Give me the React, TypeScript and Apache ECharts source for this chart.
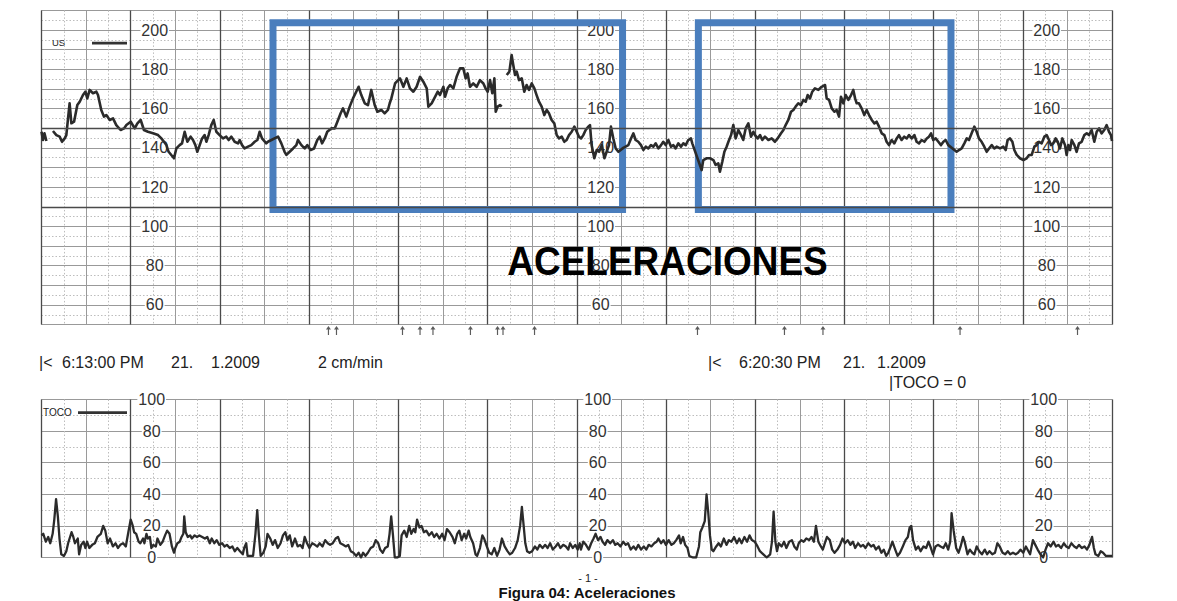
import React, { useEffect, useRef } from "react";
import * as echarts from "echarts";

// ---------- DATA ----------
// Fetal heart rate trace (US): [seconds from 6:13:00 PM, bpm]; null = signal gap
const fhrTrace: (number | null)[][] = [
  [0,148.2],[1,144.0],[2,147.4],[3.3,143.5],[5.5,null],
  [7.7,148.6],[10,146.5],[12.2,145.7],[13.8,143.1],[15.6,144.8],[16.7,146.5],[18.9,162.7],[20.1,152.5],[21.9,153.3],[24.1,161.8],[25.7,163.5],[27.9,166.9],[29.5,168.6],[30.8,165.2],[32.4,169.5],[34.6,167.8],[36.9,168.6],[38.0,166.9],[40.2,159.3],[42.0,155.9],[43.6,156.7],[45.9,154.2],[48.1,155.0],[50.3,151.6],[53.2,149.1],[55.5,149.9],[57.1,151.6],[60.0,153.3],[62.7,149.9],[64.5,152.5],[66.7,154.2],[68.9,149.1],[71.6,148.2],[75.0,147.4],[78.4,146.5],[80.6,144.8],[82.4,143.1],[84.0,141.4],[85.5,138.0],[89.1,134.7],[90.7,139.7],[92.9,141.4],[94.5,142.3],[96.3,148.2],[98.1,143.1],[100.3,145.7],[101.9,144.0],[103.5,141.4],[104.8,138.0],[106.4,141.4],[108.0,144.8],[109.7,146.5],[110.9,143.1],[112.4,146.5],[114.2,151.6],[115.8,154.2],[117.6,148.2],[119.8,146.5],[122.1,144.8],[124.3,145.7],[125.9,144.0],[127.7,145.7],[129.9,143.1],[132.2,142.3],[133.3,144.0],[134.9,141.4],[136.6,139.7],[138.9,140.6],[141.1,141.4],[143.4,143.1],[145.2,144.0],[146.7,148.2],[148.3,144.8],[151.2,142.3],[152.3,143.1],[154.6,144.0],[159.1,145.7],[161.3,142.3],[163.5,138.0],[164.7,136.4],[166.9,138.0],[169.2,139.7],[171.4,141.4],[172.5,144.0],[174.8,141.4],[177.0,139.7],[178.8,141.4],[181.0,138.9],[183.3,139.7],[185.5,144.0],[187.1,145.7],[188.7,142.3],[190.5,144.8],[192.2,148.2],[194.9,149.9],[197.2,149.9],[199.0,153.3],[201.2,157.6],[202.8,160.1],[205.0,155.9],[207.3,161.0],[209.5,165.2],[213.3,171.1],[215.1,166.9],[217.4,162.7],[219.6,161.8],[221.8,169.5],[224.1,161.8],[225.9,158.4],[228.6,159.3],[230.8,157.6],[233.0,159.3],[234.2,162.7],[235.3,165.2],
  [237.8,172.8],[238.9,173.7],[241.1,175.4],[243.4,171.1],[245.6,175.4],[247.8,170.3],[250.1,168.6],[252.3,171.1],[254.6,176.2],[256.8,173.7],[259.1,170.3],[260.2,161.0],[262.4,162.7],[264.7,166.0],[266.5,168.6],[268.0,166.9],[270.3,171.1],[271.4,166.0],[273.2,170.3],[274.8,172.0],[277.0,170.3],[279.2,176.2],[281.5,180.5],[283.7,180.5],[285.3,175.4],[286.6,177.9],[288.2,171.1],[290.4,172.8],[292.7,171.1],[294.9,174.5],[297.2,172.8],[298.7,170.3],[300.1,168.6],[301.7,174.5],[303.2,167.8],[304.6,175.4],[305.5,158.4],[306.8,161.0],[308.4,161.8],[309.5,161.0],[311,null],
  [312.9,177.1],[314.7,178.8],[316.2,187.3],[317.3,182.2],[318.5,177.1],[319.6,178.8],[321.2,174.5],[323.0,175.4],[324.7,168.6],[326.3,172.0],[327.9,169.5],[329.7,172.8],[331.5,170.3],[333.0,166.9],[334.6,163.5],[336.4,161.0],[338.2,156.7],[339.8,159.3],[341.3,157.6],[343.1,154.2],[344.9,152.5],[346.5,146.5],[348.1,144.8],[349.9,145.7],[351.6,143.1],[353.2,144.0],[354.8,146.5],[356.6,148.2],[358.4,150.8],[360.0,148.2],[361.5,145.7],[362.9,144.8],[364.4,146.5],[366.0,149.1],[367.8,150.8],[368.9,151.6],[370.0,141.4],[371.8,134.7],[373.4,138.9],[375.0,138.0],[376.8,141.4],[378.6,134.7],[380.1,138.0],[381.7,141.4],[383.0,150.8],[384.6,144.8],[386.2,139.7],[388.0,138.0],[391.3,140.0],[394.7,141.4],[396.5,144.8],[398.1,147.4],[399.6,144.0],[401.4,143.1],[403.2,141.4],[404.8,138.9],[406.4,140.6],[408.1,139.7],[409.9,141.4],[411.5,140.6],[413.1,142.3],[414.9,139.7],[416.7,141.4],[418.2,143.1],[419.8,141.4],[421.6,144.0],[423.4,140.6],[425.0,141.4],[426.5,139.7],[428.3,142.3],[430.1,140.6],[431.7,142.3],[433.3,141.4],[435.0,144.0],[436.8,144.8],[437.7,142.3],
  [444.0,128.7],[445.1,133.8],[447.4,134.7],[449.6,134.7],[451.9,133.8],[453.4,131.3],[455.2,132.1],[456.3,127.9],[457.9,133.0],[459.3,138.0],[460.8,140.6],[462.0,143.1],[463.8,146.5],[465.3,151.6],[466.9,144.8],[468.7,149.1],[470.5,146.5],[472.0,144.0],[473.6,149.9],[475.4,152.5],[477.2,145.7],[478.8,148.2],
  [479.9,146.5],[481.7,144.8],[483.3,146.5],[484.8,144.0],[486.6,145.7],[488.9,144.0],[491.1,144.8],[493.3,143.1],[495.1,144.8],[497.4,147.4],[499.0,149.1],[500.5,151.6],[502.3,154.2],[504.1,158.4],[505.7,159.3],[507.2,161.0],[509.0,162.7],[510.8,161.8],[512.4,164.4],[514.0,163.5],[515.3,166.9],[516.9,165.2],[518.4,168.6],[520.2,170.3],[522.5,169.5],[524.7,171.1],[527.0,172.0],[528.1,165.2],[529.7,164.4],[531.5,160.1],[533.3,158.4],[534.8,159.3],[536.4,155.9],[537.7,166.0],[539.3,162.7],[540.9,166.9],[542.7,164.4],[544.5,166.9],[546.0,169.5],[547.2,165.2],[548.3,162.7],[549.8,162.7],[551.6,160.1],[553.4,156.7],[555.0,159.3],[556.6,156.7],[558.4,154.2],[560.2,152.5],[561.7,153.3],[563.3,150.8],[565.1,147.4],[566.9,146.5],[568.4,143.1],[570.0,141.4],[571.8,144.0],[573.6,142.3],[575.2,144.8],[576.7,146.5],[578.5,144.0],[580.3,145.7],[581.9,144.8],[583.5,146.5],[585.3,144.8],[587.1,146.5],[588.6,143.1],[590.2,142.3],[592.0,144.0],[593.8,143.1],[595.4,144.8],[596.9,145.7],[598.3,147.4],[599.8,144.0],[601.4,144.8],[603.2,143.1],[605.0,141.4],[606.6,143.1],[608.1,144.0],[609.9,141.4],[615.5,138.0],[617.1,138.9],[618.9,139.7],[620.7,142.3],[622.3,144.8],[623.8,144.0],[625.6,147.4],[627.4,150.8],[629.0,148.2],[630.5,144.8],[632.3,143.1],[634.1,140.6],[635.7,138.0],[637.3,139.7],[639.1,141.4],[640.9,139.7],[642.4,140.6],[644.7,139.7],[646.9,140.6],[648.5,138.9],[649.8,144.0],[651.4,144.8],[653.0,143.1],[654.3,138.9],[655.9,136.4],[658.1,134.7],[660.4,133.8],[662.6,134.7],[664.2,136.4],[666.0,136.4],[667.8,140.6],[669.3,141.4],[670.9,143.1],[672.7,142.3],[674.5,145.7],[676.1,146.5],[677.6,144.0],[679.0,141.4],[680.5,142.3],[682.1,144.8],[683.5,143.1],[685.0,139.7],[686.6,144.8],[688.4,141.4],[689.5,136.4],[690.6,141.4],[691.8,138.9],[692.9,144.0],[694.7,141.4],[696.2,138.0],[697.8,142.3],[699.6,143.1],[701.4,146.5],[703.0,147.4],[704.5,146.5],[706.3,149.1],[708.1,143.1],[709.7,148.2],[711.3,149.9],[713.0,147.4],[714.8,149.1],[716.4,151.6],[718.0,148.2],[719.3,146.5],[720,143.5]
];

// Uterine activity trace (TOCO): [seconds, units]
const tocoTrace: number[][] = [
  [0,14],[1.2,15],[2.9,10],[4.5,13],[5.9,9],[7.5,15],[8.6,24],[9.8,37],[11,26],[12.1,12],[13.3,2],[15.1,1],[16.7,4],[17.9,9],[20.2,16],[21.4,13],[22.5,9],[24.4,12],[25.3,2],[26.7,8],[28.3,10],[29.5,6],[30.6,10],[32.2,6],[34.1,8],[35.9,9],[37.6,13],[39.9,15],[41.5,20],[42.9,17],[44.5,9],[46.1,12],[48,7],[49.8,9],[51.4,6],[53,8],[54.9,9],[56.7,7],[58.4,16],[60,24],[61.4,20],[62.3,16],[63.7,15],[65.3,10],[66.5,9],[68.3,12],[69.2,9],[70.6,15],[71.5,12],[72.9,13],[73.9,6],[75.2,8],[76.9,7],[78,12],[79.9,8],[81.5,10],[83.1,14],[84.5,17],[86.1,15],[87.7,7],[89.1,3],[90,6],[91.4,9],[93,10],[94.2,13],[95.4,15],[96,26],[97,16],[98.4,13],[100,14],[101.1,12],[103,14],[104.6,13],[106.2,14],[108.1,13],[109.9,12],[111.5,13],[113.2,9],[114.5,12],[116.2,9],[117.8,11],[119.6,8],[121.5,9],[123.1,7],[124.7,8],[126.6,6],[128.4,7],[130,4],[131.7,6],[133.5,4],[135.4,2],[136.3,6],[137.7,9],[138.6,1],[140.4,1],[142.3,1],[143.9,15],[145.1,30],[146.2,14],[147.4,1],[149.2,3],[150.8,7],[152,15],[153.9,12],[155.5,8],[157.1,11],[158.9,6],[160.8,9],[162.4,14],[164,16],[165.4,11],[167,14],[168.6,7],[170.5,12],[172.3,7],[174,8],[175.6,6],[177,13],[178.6,9],[180.2,6],[182.1,9],[183.9,8],[185.5,7],[187.1,9],[189,7],[190.8,11],[192.5,9],[194.1,8],[195.9,9],[197.8,12],[199.4,13],[201,9],[202.9,8],[204.7,7],[206.3,8],[208,4],[209.8,3],[211.7,1],[213.3,3],[214.9,0],[216.3,3],[217.9,1],[219.5,3],[221.4,6],[223.2,7],[224.8,11],[226.5,9],[227.8,5],[229.5,3],[231.1,6],[232.9,7],[234.1,15],[235.2,26],[236.4,14],[237.6,0],[239.4,0],[241,1],[242.2,14],[244,17],[245.6,13],[247.3,20],[248.7,15],[250.3,18],[251.4,16],[252.6,24],[254.2,19],[255.6,20],[257.2,16],[258.8,17],[260.7,14],[262.5,16],[264.1,13],[265.8,15],[267.6,12],[269.5,15],[271.1,11],[272.7,18],[274.5,16],[276.4,13],[278,9],[279.6,15],[281,17],[282.6,11],[284.3,15],[285.6,12],[287.3,17],[288.4,13],[290.3,9],[291.9,2],[293,1],[294.9,6],[296.5,14],[297.7,12],[299.5,7],[301.1,3],[302.8,2],[304.6,6],[306.4,1],[308.1,5],[309.7,12],[311.5,7],[313.4,4],[315,2],[316.6,3],[318.5,6],[320.3,11],[321.9,20],[323.1,32],[324.3,20],[325.4,9],[326.6,4],[328.2,3],[330,4],[331.9,7],[333.5,5],[335.1,8],[337,6],[338.8,8],[340.4,6],[342.1,9],[343.9,5],[345.8,7],[347.4,9],[349,6],[350.9,8],[352.7,7],[354.3,5],[355.5,9],[357.3,6],[359,8],[360.6,5],[362,9],
  [362.8,5],[364.4,10],[366.2,8],[368.1,5],[369.7,9],[371.3,12],[372.7,15],[374.3,11],[376,13],[377.4,10],[379,8],[380.6,11],[382.5,9],[384.3,11],[385.9,8],[387.5,9],[389.4,7],[391.3,10],[392.9,8],[394.5,9],[396.3,5],[398.2,7],[399.8,5],[401.4,8],[403.3,5],[405.1,7],[406.8,5],[408.4,8],[410.2,7],[412.1,9],[413.7,10],[414.9,12],[416.7,9],[418.3,11],[420,8],[421.8,11],[423.7,8],[425.3,9],[426.9,11],[428.8,14],[429.9,9],[431.5,13],[432.9,8],[434.5,6],[435.7,1],[438,0],[440.3,0],[442.2,7],[443.1,16],[444.5,19],[446.1,23],[447.3,40],[448.4,29],[449.6,14],[450.8,5],[451.9,4],[453.8,7],[455.4,9],[457,7],[458.9,12],[460.7,8],[462.3,11],[464,10],[465.8,13],[467.7,9],[469.3,12],[470.9,9],[472.8,13],[474.6,10],[476.2,14],[477.8,11],[479.7,10],[481.6,7],[483.2,4],[485.5,2],[487.8,0],[490.1,2],[491.3,10],[492.4,29],[493.6,10],[494.7,4],[495.9,9],[497.8,7],[499.4,10],[501,6],[502.9,10],[504.7,11],[506.3,7],[508,5],[509.3,9],[511,11],[512.6,10],[514.4,12],[516.3,11],[517.9,13],[519.5,10],[520.9,20],[522.5,10],[524.2,7],[525.5,5],[527.2,10],[528.3,13],[530.2,11],[531.8,5],[533.4,3],[535.3,5],[537.1,8],[538.7,12],[540.4,9],[542.2,11],[544.1,8],[545.7,10],[547.3,6],[549.2,9],[551,7],[552.6,8],[554.2,6],[556.1,9],[558,7],[559.6,8],[561.2,5],[563.1,7],[564.9,3],[566.5,5],[568.1,1],[569.5,3],[571.2,7],[572.3,10],[574.2,5],[575.8,1],[577.4,3],[579.3,7],[581.1,11],[582.7,13],[583.9,19],[585,20],[586.2,11],[588.1,5],[589.7,7],[591.3,4],[593.2,7],[595,6],[596.6,10],[598.2,6],[599.6,2],[601.3,7],[602.9,8],[604.7,7],[606.6,6],[608.2,9],[609.8,5],[611.2,10],[612.1,28],[613.5,17],[615.2,6],[616.8,3],[618.2,7],[619.8,13],[620.9,10],[622.8,2],[624.4,5],[626,3],[627.4,2],[629,7],[630.7,4],[632.5,2],[634.4,5],[636,2],[637.6,4],[639.5,2],[641.3,3],[642.9,9],[644.5,7],[646.4,3],[648.2,2],[649.9,4],[651.5,2],[653.4,3],[655.2,2],[656.8,3],[658.4,5],[660.3,3],[662.1,7],[663.8,4],[664.9,2],[666.8,11],[668.4,8],[670,5],[671.9,2],[673.7,0],[675.3,5],[677,9],[678.8,7],[680.7,10],[682.3,7],[683.9,8],[685.8,6],[687.6,9],[689.2,7],[690.9,6],[692.7,9],[694.6,7],[696.2,6],[697.8,8],[699.7,6],[701.5,7],[703.2,5],[704.8,8],[706.6,13],[707.8,6],[708.9,2],[710.8,1],[712.4,4],[714,3],[715.9,1],[717.7,1],[720,1]
];

// Fetal movement event marks (seconds)
const movementEvents: number[] = [193.0, 198.4, 242.8, 254.6, 263.3, 288.5, 306.7, 310.4, 331.6, 441.2, 499.7, 525.6, 617.8, 696.8];

// Axis ticks
const fhrTickLabels: number[] = [60, 80, 100, 120, 140, 160, 180, 200];
const tocoTickLabels: number[] = [0, 20, 40, 60, 80, 100];
const fhrReferenceLines: number[] = [110, 150];

// Acceleration annotation boxes: [startSec, endSec, lowBpm, highBpm]
const accelBoxes: number[][] = [
  [155.7, 390.8, 108.6, 203.7],
  [441.8, 611.7, 108.6, 203.7],
];

// ---------- LAYOUT / STYLE ----------
const FONT = "'Liberation Sans', Arial, Helvetica, sans-serif";
const GL = 41.5;
const GW = 1070.5;
const DARK_MINUTES = [130.7, 576.7, 1022.7]; // label columns after these minute lines
const INK = "#2b2b2b";

function gridXAxis(gridIndex: number, interval: number, color: string, width: number, minor: boolean, position: string) {
  return {
    type: "value", gridIndex, min: 0, max: 720, interval, position,
    axisLine: { show: false }, axisTick: { show: false }, axisLabel: { show: false },
    splitLine: { show: true, lineStyle: { color, width } },
    minorTick: { show: false, splitNumber: 2 },
    minorSplitLine: { show: minor, lineStyle: { color: "#bdbdbd", width: 1, type: [1.5, 2] } },
  };
}

function gridYAxis(gridIndex: number, min: number, max: number, interval: number) {
  return {
    type: "value", gridIndex, min, max, interval,
    axisLine: { show: false }, axisTick: { show: false }, axisLabel: { show: false },
    splitLine: { show: true, lineStyle: { color: "#999", width: 1 } },
    minorTick: { show: false, splitNumber: 2 },
    minorSplitLine: { show: true, lineStyle: { color: "#bdbdbd", width: 1, type: [1.5, 2] } },
  };
}

function labelYAxis(gridIndex: number, min: number, max: number, interval: number, centerX: number, ticks: number[]) {
  return {
    type: "value", gridIndex, min, max, interval, position: "left",
    offset: -(centerX - GL),
    axisLine: { show: false }, axisTick: { show: false }, splitLine: { show: false },
    axisLabel: {
      show: true, margin: 0, align: "center", verticalAlign: "middle",
      fontSize: 16, fontFamily: FONT, color: "#333",
      formatter: (v: number) => (ticks.indexOf(v) >= 0 ? `{b|${v}}` : ""),
      rich: { b: { backgroundColor: "#fff", padding: [0, 1], fontSize: 16, fontFamily: FONT, color: "#333" } },
    },
  };
}

function txt(text: string, x: number, y: number, fontSize: number, extra: any = {}) {
  return {
    type: "text", x, y, z: 50,
    style: { text, fontSize, fontFamily: FONT, fill: "#222", verticalAlign: "middle", ...extra },
  };
}

function buildOption() {
  const arrowPath = "path://M3,0 L6,4 L3.7,4 L3.7,10 L2.3,10 L2.3,4 L0,4 Z";
  return {
    animation: false,
    backgroundColor: "#fff",
    grid: [
      { left: GL, top: 10.4, width: GW, height: 314.2 },
      { left: GL, top: 325, width: GW, height: 11 },
      { left: GL, top: 399.5, width: GW, height: 158 },
    ],
    xAxis: [
      gridXAxis(0, 30, "#9a9a9a", 1, true, "bottom"),
      gridXAxis(0, 60, "#4a4a4a", 1.3, false, "top"),
      { type: "value", gridIndex: 1, min: 0, max: 720, show: false },
      gridXAxis(2, 30, "#9a9a9a", 1, true, "bottom"),
      gridXAxis(2, 60, "#4a4a4a", 1.3, false, "top"),
    ],
    yAxis: [
      gridYAxis(0, 50, 210, 10),
      labelYAxis(0, 50, 210, 10, DARK_MINUTES[0] + 24, fhrTickLabels),
      labelYAxis(0, 50, 210, 10, DARK_MINUTES[1] + 24, fhrTickLabels),
      labelYAxis(0, 50, 210, 10, DARK_MINUTES[2] + 24, fhrTickLabels),
      { type: "value", gridIndex: 1, min: -1, max: 1, show: false },
      gridYAxis(2, 0, 100, 20),
      labelYAxis(2, 0, 100, 20, DARK_MINUTES[0] + 21, tocoTickLabels),
      labelYAxis(2, 0, 100, 20, DARK_MINUTES[1] + 21, tocoTickLabels),
      labelYAxis(2, 0, 100, 20, DARK_MINUTES[2] + 21, tocoTickLabels),
    ],
    series: [
      {
        name: "US", type: "line", xAxisIndex: 0, yAxisIndex: 0, data: fhrTrace,
        showSymbol: false, symbol: "none", connectNulls: false, z: 3, silent: true,
        lineStyle: { color: INK, width: 2.6, join: "round" },
        markLine: {
          silent: true, symbol: "none", label: { show: false },
          lineStyle: { color: "#4a4a4a", width: 1.3, type: "solid" },
          data: fhrReferenceLines.map((v) => ({ yAxis: v })),
        },
      },
      {
        name: "events", type: "scatter", xAxisIndex: 2, yAxisIndex: 4,
        data: movementEvents.map((t) => [t, 0]), symbol: arrowPath, symbolSize: [5, 9],
        itemStyle: { color: "#333" }, silent: true, clip: false,
      },
      {
        name: "TOCO", type: "line", xAxisIndex: 3, yAxisIndex: 5, data: tocoTrace,
        showSymbol: false, symbol: "none", z: 3, silent: true,
        lineStyle: { color: INK, width: 2.3, join: "round" },
      },
      {
        name: "boxes", type: "line", xAxisIndex: 0, yAxisIndex: 0, data: [], z: 10, silent: true,
        markArea: {
          silent: true,
          itemStyle: { color: "rgba(0,0,0,0)", borderColor: "#4a7ebd", borderWidth: 7 },
          label: { show: false },
          data: accelBoxes.map(([t0, t1, lo, hi]) => [{ xAxis: t0, yAxis: hi }, { xAxis: t1, yAxis: lo }]),
        },
      },
    ],
    graphic: [
      txt("US", 52, 42.5, 9.5),
      { type: "rect", z: 50, shape: { x: 92, y: 41.7, width: 35, height: 2.8 }, style: { fill: "#333" } },
      txt("TOCO", 43, 412.5, 10),
      { type: "rect", z: 50, shape: { x: 78, y: 411.2, width: 49, height: 2.8 }, style: { fill: "#333" } },
      txt("|<", 39, 362, 16),
      txt("6:13:00 PM", 62, 362, 16),
      txt("21.", 171, 362, 16),
      txt("1.2009", 211, 362, 16),
      txt("2 cm/min", 318, 362, 16),
      txt("|<", 708, 362, 16),
      txt("6:20:30 PM", 739, 362, 16),
      txt("21.", 843, 362, 16),
      txt("1.2009", 877, 362, 16),
      txt("|TOCO = 0", 889, 382, 16),
      {
        type: "text", x: 667.5, y: 260, z: 100, scaleY: 1.12, originX: 0, originY: 0,
        style: { text: "ACELERACIONES", fontSize: 37, fontWeight: "bold", fontFamily: FONT, fill: "#000", align: "center", verticalAlign: "middle" },
      },
      txt("- 1 -", 588, 578, 11, { align: "center" }),
      txt("Figura 04: Aceleraciones", 587, 592, 15, { align: "center", fontWeight: "bold", fill: "#111" }),
    ],
  };
}

export default function App() {
  const ref = useRef<HTMLDivElement>(null);
  useEffect(() => {
    if (!ref.current) return;
    const chart = echarts.init(ref.current, null, { renderer: "svg" });
    chart.setOption(buildOption() as any);
    return () => chart.dispose();
  }, []);
  return (
    <div
      ref={ref}
      style={{ position: "fixed", left: 0, top: 0, width: 1177, height: 601, background: "#fff" }}
    />
  );
}
